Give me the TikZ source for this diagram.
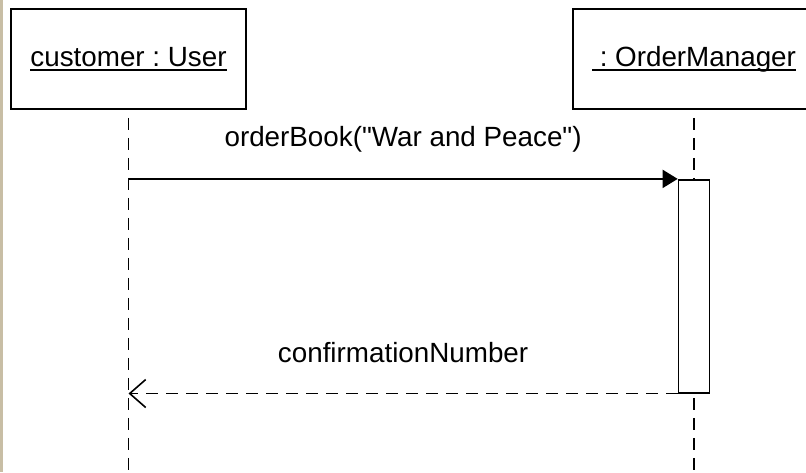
\documentclass[tikz,border=0pt]{standalone}
\usepackage{fontspec}
\setmainfont{Liberation Sans}[Ligatures=TeXOff]
\usepackage{calc}
\usetikzlibrary{positioning, arrows.meta}

\definecolor{framebar}{RGB}{200,190,165}
\newcommand{\objname}[1]{\leavevmode\rlap{#1}\rule[-4.5pt]{\widthof{#1}}{1.8pt}}
\frenchspacing

\begin{document}
\begin{tikzpicture}[x=1pt, y=-1pt, every node/.style={font=\fontsize{27.8}{33}\selectfont}]

	\tikzstyle{object} = [rectangle, draw, line width=1.8pt, fill=white, minimum height=100pt, inner sep=0pt]
	\tikzstyle{lifeline} = [draw, line width=1.6pt, dash pattern=on 12pt off 8pt, dash phase=12pt]
	\tikzstyle{activation} = [rectangle, draw, line width=1.6pt, fill=white, minimum width=31pt, minimum height=213pt, inner sep=0pt]
	\tikzstyle{call} = [draw, line width=1.6pt, -{Triangle[length=15pt, width=18pt]}]
	\tikzstyle{reply} = [draw, line width=1.6pt, dash pattern=on 12pt off 8pt, -{Straight Barb[length=16pt, width=28pt, line width=1.6pt]}]

	\useasboundingbox (0,0) rectangle (806,472);
	\clip (0,0) rectangle (806,472);
	\fill [framebar] (0,0) rectangle (3,472);

	\node [object, minimum width=235pt] (user) at (128.5,59) {\objname{customer : User}};
	% the object box runs on past the right edge of the frame
	\node [object, overlay, minimum width=242pt, right=325.2pt of user] (manager) {\objname{\ : OrderManager}};

	\coordinate (userend) at (user.south |- 0,472);
	\coordinate (managerend) at (manager.south |- 0,472);
	\path [lifeline] (user.south) -- (userend);
	\path [lifeline] (manager.south) -- (managerend);

	\node [activation, below=69pt of manager] (act) {};

	\path [call] (user.south |- act.north west) -- node [anchor=base, yshift=32pt] (calltext) {orderBook("War and Peace")} (act.north west);
	\path [reply] (act.south west) -- node [anchor=base, yshift=31pt] (replytext) {confirmationNumber} (user.south |- act.south west);
\end{tikzpicture}
\end{document}
